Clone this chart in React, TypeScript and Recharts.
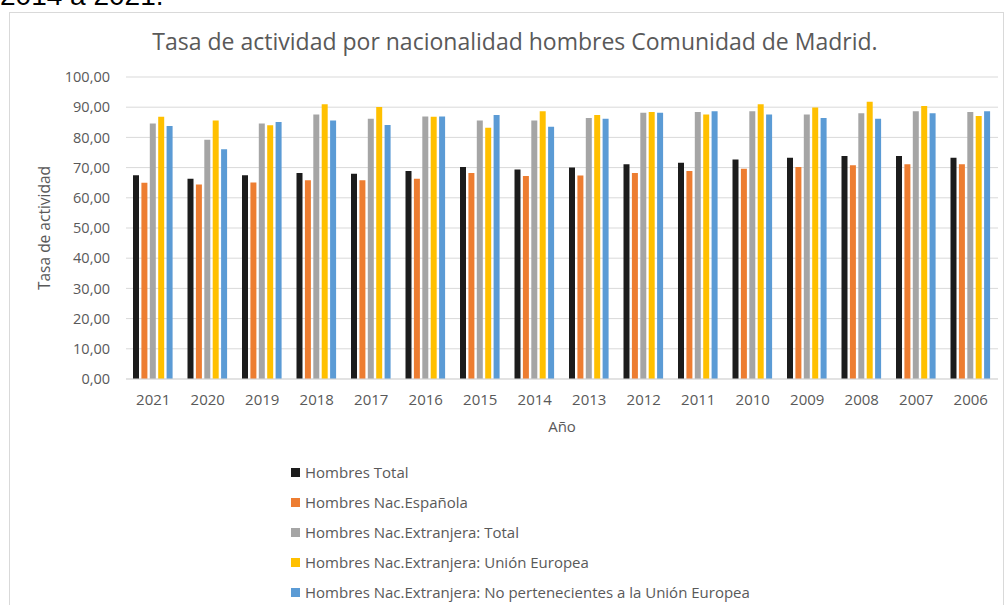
import { BarChart, Bar, XAxis, YAxis, CartesianGrid, Legend } from "recharts";

const years = [
  "2021", "2020", "2019", "2018", "2017", "2016", "2015", "2014",
  "2013", "2012", "2011", "2010", "2009", "2008", "2007", "2006",
];

const hombresTotal = [67.5, 66.3, 67.5, 68.2, 68.0, 68.9, 70.2, 69.4, 70.0, 71.1, 71.6, 72.7, 73.3, 73.8, 73.8, 73.3];
const nacEspanola = [65.0, 64.4, 65.1, 65.8, 65.8, 66.3, 68.2, 67.2, 67.4, 68.2, 68.9, 69.6, 70.2, 70.8, 71.1, 71.1];
const extTotal = [84.6, 79.2, 84.6, 87.6, 86.2, 86.9, 85.6, 85.6, 86.4, 88.2, 88.4, 88.7, 87.6, 88.0, 88.7, 88.4];
const extUE = [86.8, 85.6, 84.0, 91.0, 90.1, 86.8, 83.2, 88.7, 87.4, 88.4, 87.6, 91.0, 89.9, 91.8, 90.4, 87.1];
const extNoUE = [83.8, 76.1, 85.1, 85.6, 84.1, 86.9, 87.4, 83.5, 86.2, 88.2, 88.7, 87.6, 86.4, 86.2, 88.0, 88.7];

const yTicks = [0, 10, 20, 30, 40, 50, 60, 70, 80, 90, 100];

const series = [
  { key: "total", name: "Hombres Total", color: "#1c1c1c", values: hombresTotal },
  { key: "esp", name: "Hombres Nac.Española", color: "#ed7d31", values: nacEspanola },
  { key: "extTotal", name: "Hombres Nac.Extranjera: Total", color: "#a5a5a5", values: extTotal },
  { key: "extUE", name: "Hombres Nac.Extranjera: Unión Europea", color: "#ffc000", values: extUE },
  { key: "extNoUE", name: "Hombres Nac.Extranjera: No pertenecientes a la Unión Europea", color: "#5b9bd5", values: extNoUE },
];

const data = years.map((year, i) => {
  const row: Record<string, string | number> = { year };
  series.forEach((s) => {
    row[s.key] = s.values[i];
  });
  return row;
});

const FONT = "'Open Sans', sans-serif";
const TEXT = "#595959";

const fmt = (v: number) => v.toFixed(2).replace(".", ",");

function renderLegend() {
  return (
    <div style={{ fontFamily: FONT, fontSize: 15, color: TEXT }}>
      {series.map((s) => (
        <div key={s.key} style={{ display: "flex", alignItems: "center", height: 30 }}>
          <span
            style={{
              display: "inline-block",
              width: 9,
              height: 9,
              background: s.color,
              marginRight: 5,
            }}
          />
          <span style={{ whiteSpace: "nowrap" }}>{s.name}</span>
        </div>
      ))}
    </div>
  );
}

export default function App() {
  return (
    <div
      style={{
        position: "absolute",
        left: 0,
        top: 0,
        width: 1004,
        height: 605,
        overflow: "hidden",
        background: "#fff",
      }}
    >
      <div
        style={{
          position: "absolute",
          left: 0,
          top: -18,
          fontFamily: "'Liberation Sans', Arial, sans-serif",
          fontSize: 28,
          lineHeight: "28px",
          color: "#000",
          whiteSpace: "nowrap",
        }}
      >
        2014 a 2021.
      </div>
      <div
        style={{
          position: "absolute",
          left: 9,
          top: 12,
          width: 993,
          height: 620,
          border: "1px solid #d9d9d9",
        }}
      />
      <div
        style={{
          position: "absolute",
          left: 0,
          top: 25,
          width: 1030,
          textAlign: "center",
          fontFamily: FONT,
          fontSize: 23,
          color: TEXT,
          whiteSpace: "nowrap",
        }}
      >
        Tasa de actividad por nacionalidad hombres Comunidad de Madrid.
      </div>
      <div style={{ position: "absolute", left: 0, top: 0 }}>
        <BarChart
          width={1004}
          height={605}
          data={data}
          margin={{ top: 77, right: 6, left: 30, bottom: 166 }}
          barSize={6}
          barGap={2.4}
        >
          <CartesianGrid vertical={false} stroke="#d9d9d9" />
          <XAxis
            dataKey="year"
            height={60}
            tickLine={false}
            axisLine={{ stroke: "#d9d9d9" }}
            tickMargin={9}
            tick={{ fill: TEXT, fontFamily: FONT, fontSize: 15 }}
            interval={0}
            label={{
              value: "Año",
              position: "insideBottom",
              offset: 7,
              fill: TEXT,
              fontFamily: FONT,
              fontSize: 15,
            }}
          />
          <YAxis
            width={96}
            domain={[0, 100]}
            ticks={yTicks}
            interval={0}
            tickFormatter={fmt}
            axisLine={false}
            tickLine={false}
            tickMargin={10}
            tick={{ fill: TEXT, fontFamily: FONT, fontSize: 14.5 }}
            label={{
              value: "Tasa de actividad",
              angle: -90,
              position: "insideLeft",
              dx: 9,
              fill: TEXT,
              fontFamily: FONT,
              fontSize: 15.5,
              style: { textAnchor: "middle" },
            }}
          />
          {series.map((s) => (
            <Bar
              key={s.key}
              dataKey={s.key}
              name={s.name}
              fill={s.color}
              isAnimationActive={false}
            />
          ))}
          <Legend
            layout="vertical"
            align="center"
            verticalAlign="middle"
            content={renderLegend}
            wrapperStyle={{ top: 457, left: 291, width: 600 }}
          />
        </BarChart>
      </div>
    </div>
  );
}
